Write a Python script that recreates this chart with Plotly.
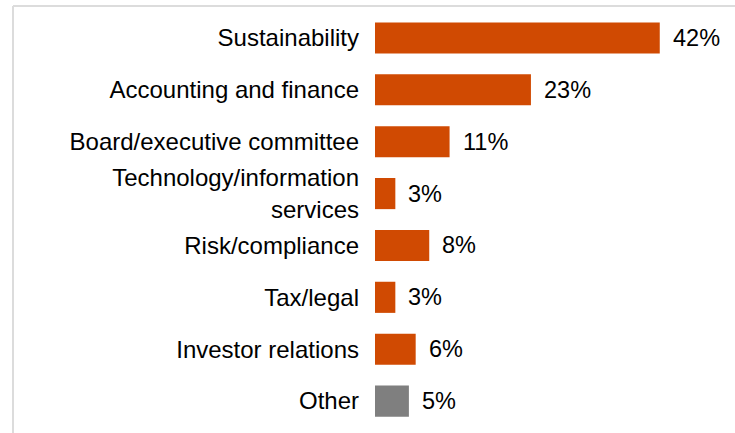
import plotly.graph_objects as go

categories = ["Sustainability", "Accounting and finance", "Board/executive committee",
              "Technology/information<br>services", "Risk/compliance", "Tax/legal",
              "Investor relations", "Other"]
values = [42, 23, 11, 3, 8, 3, 6, 5]
value_labels = ["42%", "23%", "11%", "3%", "8%", "3%", "6%", "5%"]
colors = ["#D04A02"] * 7 + ["#7F7F7F"]

W, H = 735, 433
L, R, T, B = 375, 21, 12, 6
pw = W - L - R
ph = H - T - B

fig = go.Figure()
fig.add_trace(go.Bar(
    x=values, y=categories, orientation="h",
    marker=dict(color=colors, line=dict(width=0)),
    width=0.6, hoverinfo="skip",
))

for c, v, t in zip(categories, values, value_labels):
    fig.add_annotation(x=v, y=c, text=t, showarrow=False, xanchor="left",
                       xshift=11, font=dict(family="Liberation Sans, Arial", size=23.5, color="#000000"))

# light frame lines (top and left)
fig.add_shape(type="line", xref="paper", yref="paper",
              x0=(13 - L) / pw, x1=(W - L) / pw, y0=(H - B - 6) / ph, y1=(H - B - 6) / ph,
              line=dict(color="#DCDCDC", width=2))
fig.add_shape(type="line", xref="paper", yref="paper",
              x0=(13 - L) / pw, x1=(13 - L) / pw, y0=(H - B - 6) / ph, y1=-B / ph,
              line=dict(color="#DCDCDC", width=2))

fig.update_layout(
    width=W, height=H,
    margin=dict(l=L, r=R, t=T, b=B, autoexpand=False),
    paper_bgcolor="white", plot_bgcolor="white",
    showlegend=False,
    font=dict(family="Liberation Sans, Arial", size=24, color="#000000"),
    xaxis=dict(range=[0, 50], visible=False, fixedrange=True),
    yaxis=dict(autorange="reversed", showgrid=False, zeroline=False, showline=False,
               ticks="", ticklabelstandoff=15, tickfont=dict(size=24, color="#000000"),
               fixedrange=True),
)

fig.write_html("out.html", config={"displayModeBar": False},
               post_script="document.body.style.margin='0';document.body.style.overflow='hidden';")
